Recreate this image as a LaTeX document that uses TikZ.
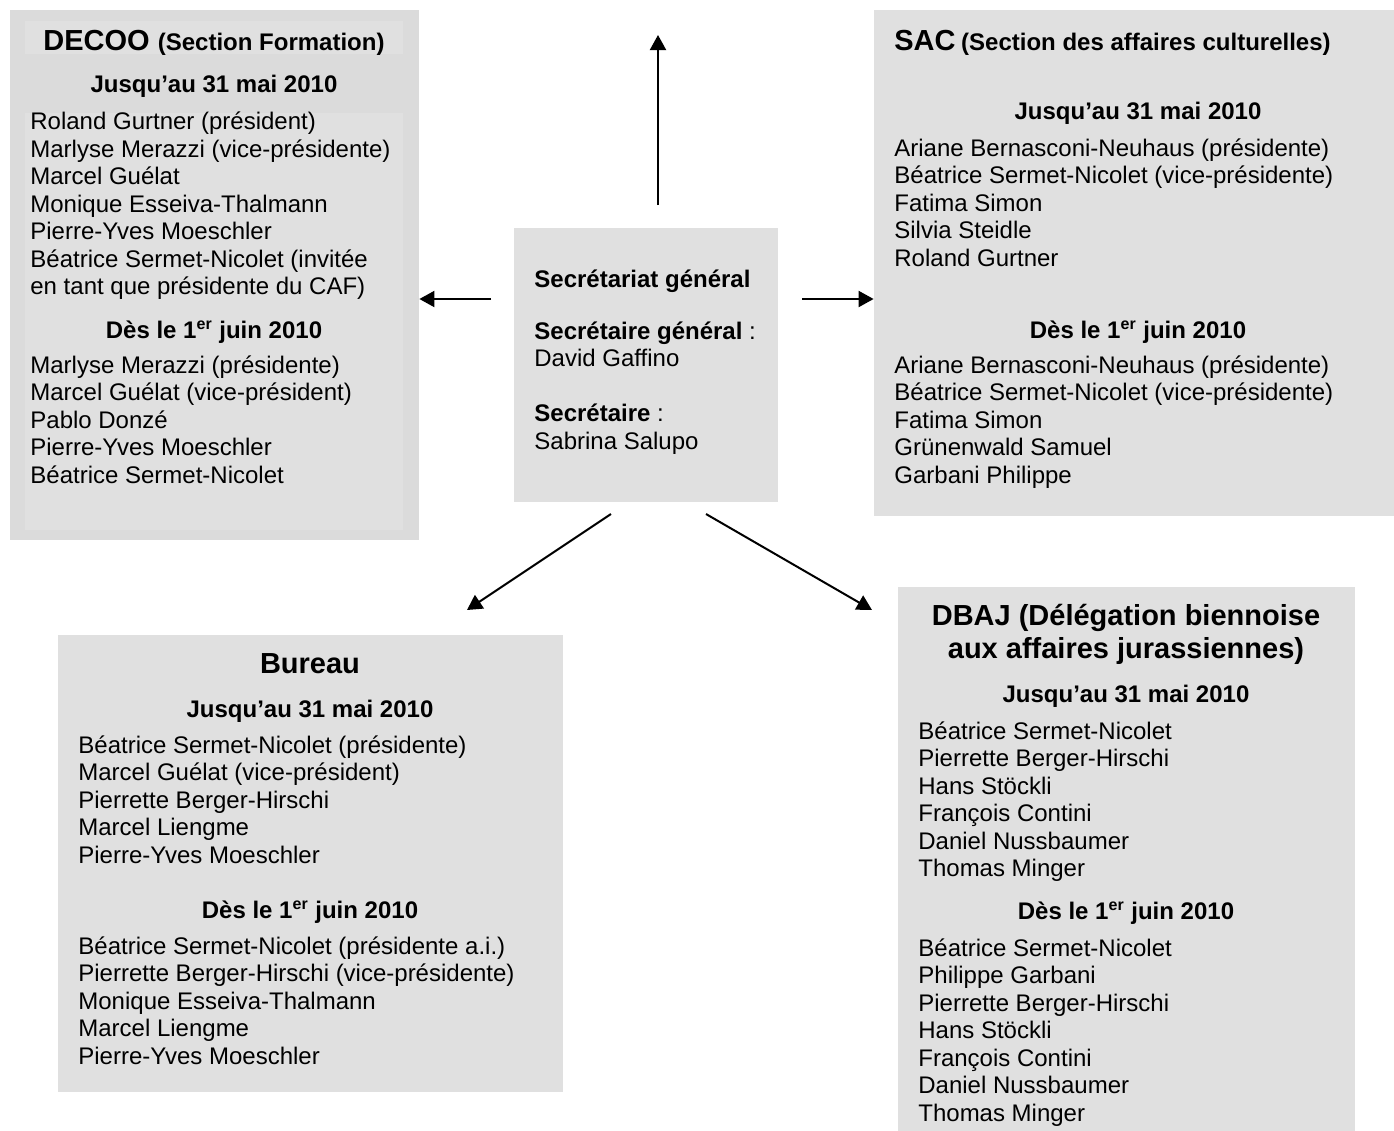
\documentclass[tikz,border=0pt]{standalone}
\usepackage{fontspec}
\setmainfont{Liberation Sans}
\usetikzlibrary{arrows.meta,fit}
\definecolor{boxgray}{RGB}{224,224,224}
\definecolor{outergray}{RGB}{219,219,219}
\newcommand\lst[1]{\begin{tabular}[t]{@{}l@{}}#1\end{tabular}}
\newcommand\bigt{\fontsize{14.5}{17}\selectfont}
\begin{document}
\begin{tikzpicture}[x=0.5pt,y=-0.5pt,
  box/.style={fill=boxgray, draw=none, inner sep=0pt},
  obox/.style={fill=outergray, draw=none, inner sep=0pt},
  txt/.style={inner sep=0pt, anchor=base west, font=\fontsize{12}{13.75}\selectfont},
  head/.style={inner sep=0pt, anchor=base, font=\fontsize{12}{13.75}\selectfont\bfseries},
  ttl/.style={inner sep=0pt, anchor=base, font=\bigt\bfseries, align=center},
  arr/.style={line width=1pt, -{Triangle[length=7.5pt,width=8pt]}}]
\useasboundingbox (0,0) rectangle (1394,1131);
\fill[white] (0,0) rectangle (1394,1131);

% boxes
\node[obox, fit={(10,10) (419,540)}] (decoo) {};
\node[box, fit={(25,21) (403,54)}] (decooT) {};
\node[box, fit={(25,113) (403,530)}] (decooL) {};
\node[box, fit={(514,228) (778,502)}] (sec) {};
\node[box, fit={(874,10) (1394,516)}] (sac) {};
\node[box, fit={(58,635) (563,1092)}] (bur) {};
\node[box, fit={(898,587) (1355,1131)}] (dbaj) {};

% DECOO
\node[ttl] (dT) at (214,50) {{\bigt DECOO} {\fontsize{12}{13.75}\selectfont(Section Formation)}};
\node[head] (dH1) at (214,92) {Jusqu’au 31 mai 2010};
\node[txt] (dL1) at (30,129.5) {\lst{Roland Gurtner (président)\\
Marlyse Merazzi (vice-présidente)\\
Marcel Guélat\\
Monique Esseiva-Thalmann\\
Pierre-Yves Moeschler\\
Béatrice Sermet-Nicolet (invitée\\
en tant que présidente du CAF)}};
\node[head] (dH2) at (214,338) {Dès le 1\textsuperscript{er} juin 2010};
\node[txt] (dL2) at (30,373) {\lst{Marlyse Merazzi (présidente)\\
Marcel Guélat (vice-président)\\
Pablo Donzé\\
Pierre-Yves Moeschler\\
Béatrice Sermet-Nicolet}};

% Secretariat
\node[txt] (sT) at (534,287) {\lst{\textbf{Secrétariat général}\\[12.25pt]
\textbf{Secrétaire général} :\\
David Gaffino\\[13.75pt]
\textbf{Secrétaire} :\\
Sabrina Salupo}};

% SAC
\node[inner sep=0pt, anchor=base west] (aT) at (894,50) {\bfseries{\bigt SAC} {\fontsize{12}{13.75}\selectfont(Section des affaires culturelles)}};
\node[head] (aH1) at (1138,119) {Jusqu’au 31 mai 2010};
\node[txt] (aL1) at (894,156) {\lst{Ariane Bernasconi-Neuhaus (présidente)\\
Béatrice Sermet-Nicolet (vice-présidente)\\
Fatima Simon\\
Silvia Steidle\\
Roland Gurtner}};
\node[head] (aH2) at (1138,338) {Dès le 1\textsuperscript{er} juin 2010};
\node[txt] (aL2) at (894,373) {\lst{Ariane Bernasconi-Neuhaus (présidente)\\
Béatrice Sermet-Nicolet (vice-présidente)\\
Fatima Simon\\
Grünenwald Samuel\\
Garbani Philippe}};

% Bureau
\node[ttl] (bT) at (310,673) {Bureau};
\node[head] (bH1) at (310,717) {Jusqu’au 31 mai 2010};
\node[txt] (bL1) at (78,753) {\lst{Béatrice Sermet-Nicolet (présidente)\\
Marcel Guélat (vice-président)\\
Pierrette Berger-Hirschi\\
Marcel Liengme\\
Pierre-Yves Moeschler}};
\node[head] (bH2) at (310,918) {Dès le 1\textsuperscript{er} juin 2010};
\node[txt] (bL2) at (78,954) {\lst{Béatrice Sermet-Nicolet (présidente a.i.)\\
Pierrette Berger-Hirschi (vice-présidente)\\
Monique Esseiva-Thalmann\\
Marcel Liengme\\
Pierre-Yves Moeschler}};

% DBAJ
\node[inner sep=0pt, anchor=base, font=\bigt\bfseries] (jT) at (1126,625) {\begin{tabular}[t]{@{}c@{}}DBAJ (Délégation biennoise\\[-0.5pt]aux affaires jurassiennes)\end{tabular}};
\node[head] (jH1) at (1126,702) {Jusqu’au 31 mai 2010};
\node[txt] (jL1) at (918,739) {\lst{Béatrice Sermet-Nicolet\\
Pierrette Berger-Hirschi\\
Hans Stöckli\\
François Contini\\
Daniel Nussbaumer\\
Thomas Minger}};
\node[head] (jH2) at (1126,919) {Dès le 1\textsuperscript{er} juin 2010};
\node[txt] (jL2) at (918,956) {\lst{Béatrice Sermet-Nicolet\\
Philippe Garbani\\
Pierrette Berger-Hirschi\\
Hans Stöckli\\
François Contini\\
Daniel Nussbaumer\\
Thomas Minger}};

% connectors
\coordinate (upS) at (658,205);
\coordinate (upE) at (658,35);
\coordinate (lS) at (491,299);
\coordinate (rS) at (802,299);
\coordinate (dlS) at (611,514);
\coordinate (dlE) at (467,610);
\coordinate (drS) at (706,514);
\coordinate (drE) at (872,610);
\draw[arr] (upS) -- (upE);
\draw[arr] (lS) -- (lS -| decoo.east);
\draw[arr] (rS) -- (rS -| sac.west);
\draw[arr] (dlS) -- (dlE);
\draw[arr] (drS) -- (drE);
\end{tikzpicture}
\end{document}
